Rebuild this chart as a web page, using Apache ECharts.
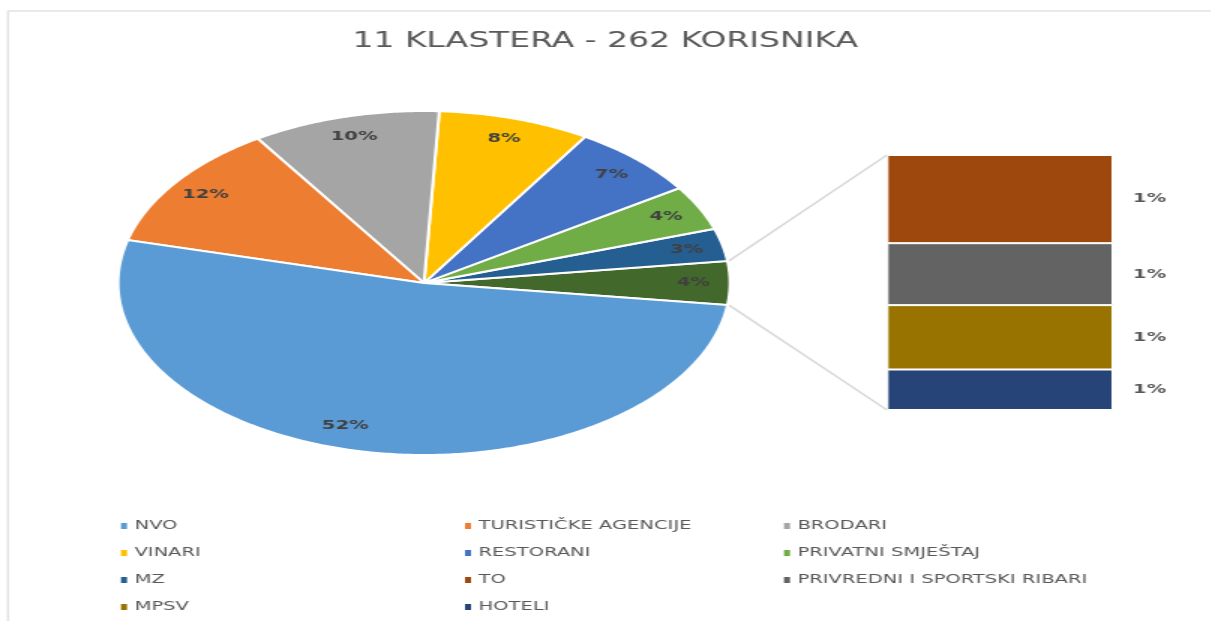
<!DOCTYPE html>
<html>
<head>
<meta charset="utf-8">
<script src="https://cdn.jsdelivr.net/npm/echarts@6/dist/echarts.min.js"></script>
<style>
  html, body { margin: 0; padding: 0; background: #fff; overflow: hidden; }
  #main { height: 621px; transform-origin: 0 0; }
</style>
</head>
<body>
<div id="main"></div>
<script>
// glavni dio pite (redom kako stoje u legendi)
var pieNames = ['NVO', 'TURISTIČKE AGENCIJE', 'BRODARI', 'VINARI', 'RESTORANI', 'PRIVATNI SMJEŠTAJ', 'MZ'];
var pieValues = [136, 31, 26, 21, 18, 11, 8];
var pieColors = ['#5b9bd5', '#ed7d31', '#a5a5a5', '#ffc000', '#4472c4', '#70ad47', '#255e91'];

// izdvojeni dio (stupac desno)
var barNames = ['TO', 'PRIVREDNI I SPORTSKI RIBARI', 'MPSV', 'HOTELI'];
var barValues = [3.7, 2.6, 2.7, 1.7];
var barColors = ['#9e480e', '#636363', '#997300', '#264478'];
var otherColor = '#43682b';

var otherSum = barValues.reduce(function (a, b) { return a + b; }, 0);
var total = pieValues.reduce(function (a, b) { return a + b; }, 0) + otherSum;

// slika je razvučena vodoravno, pa crtamo uže i razvučemo
var K = 1.5;
function X(x) { return x / K; }

var el = document.getElementById('main');
el.style.width = (1211 / K) + 'px';
el.style.transform = 'scaleX(' + K + ')';

// elipsa pite
var cx = X(424), cy = 283, rx = X(306), ry = 172;
// stupac
var gridLeft = X(887), gridTop = 155, gridW = X(226), gridH = 255;

function pct(v) {
    return Math.round(v / total * 100) + '%';
}

// redoslijed kriški obrnuto od kazaljke, počevši od izdvojenog dijela
var slices = [{ name: 'other', value: otherSum, color: otherColor }];
for (var i = pieNames.length - 1; i >= 0; i--) {
    slices.push({ name: pieNames[i], value: pieValues[i], color: pieColors[i] });
}
var acc = -otherSum / 2;
slices.forEach(function (s) {
    s.a0 = acc / total * Math.PI * 2;
    acc += s.value;
    s.a1 = acc / total * Math.PI * 2;
});

function ept(a, f) {
    return [cx + rx * f * Math.cos(a), cy - ry * f * Math.sin(a)];
}

function sliceSeries(s) {
    return {
        name: s.name,
        type: 'custom',
        coordinateSystem: 'none',
        color: s.color,
        silent: true,
        data: [s.value],
        renderItem: function () {
            var pts = [[cx, cy]];
            var n = Math.max(4, Math.ceil((s.a1 - s.a0) / 0.01));
            for (var k = 0; k <= n; k++) {
                pts.push(ept(s.a0 + (s.a1 - s.a0) * k / n, 1));
            }
            var mid = (s.a0 + s.a1) / 2;
            // NVO natpis u Excelu stoji malo lijevije
            var lp = s.name === 'NVO' ? ept(mid - 0.11, 0.87) : ept(mid, 0.88);
            var children = [{
                type: 'polygon',
                shape: { points: pts },
                style: { fill: s.color, stroke: '#fff', lineWidth: 2 }
            }, {
                type: 'text',
                x: lp[0], y: lp[1],
                style: {
                    text: pct(s.value),
                    fill: '#404040',
                    font: 'bold 13px "DejaVu Sans"',
                    align: 'center',
                    verticalAlign: 'middle'
                },
                z2: 10
            }];
            if (s.name === 'other') {
                var p0 = ept(s.a1, 1.005), p1 = ept(s.a0, 1.005);
                children.push({
                    type: 'line',
                    shape: { x1: p0[0], y1: p0[1], x2: gridLeft, y2: gridTop },
                    style: { stroke: '#d9d9d9', lineWidth: 1.5 }
                });
                children.push({
                    type: 'line',
                    shape: { x1: p1[0], y1: p1[1], x2: gridLeft, y2: gridTop + gridH },
                    style: { stroke: '#d9d9d9', lineWidth: 1.5 }
                });
            }
            return { type: 'group', children: children };
        }
    };
}

var series = slices.map(sliceSeries);

// stupac se slaže odozdo prema gore
for (var j = barNames.length - 1; j >= 0; j--) {
    series.push({
        name: barNames[j],
        type: 'bar',
        stack: 'ostali',
        barWidth: '100%',
        color: barColors[j],
        itemStyle: { borderColor: '#fff', borderWidth: 1 },
        label: {
            show: true,
            position: 'right',
            distance: X(20),
            color: '#595959',
            fontFamily: 'DejaVu Sans',
            fontWeight: 'bold',
            fontSize: 13,
            formatter: function (p) { return pct(p.value); }
        },
        silent: true,
        data: [barValues[j]]
    });
}

function legendCol(left, names) {
    return {
        orient: 'vertical',
        left: X(left),
        top: 519,
        height: 110,
        padding: 0,
        data: names,
        icon: 'rect',
        itemWidth: 4,
        itemHeight: 6,
        itemGap: 13,
        itemStyle: { borderWidth: 0 },
        selectedMode: false,
        textStyle: { color: '#595959', fontFamily: 'DejaVu Sans', fontSize: 13, lineHeight: 14 }
    };
}

var chart = echarts.init(el);
chart.setOption({
    animation: false,
    backgroundColor: '#fff',
    title: {
        text: '11 KLASTERA - 262 KORISNIKA',
        left: 'center',
        top: 25,
        textStyle: { color: '#595959', fontFamily: 'DejaVu Sans', fontSize: 22, fontWeight: 'normal' }
    },
    graphic: [{
        type: 'polyline',
        shape: { points: [[X(8), 640], [X(8), 11], [X(1230), 11]] },
        style: { stroke: '#e3e3e3', lineWidth: 1.5, fill: null },
        silent: true
    }],
    legend: [
        legendCol(121, ['NVO', 'VINARI', 'MZ', 'MPSV']),
        legendCol(465, ['TURISTIČKE AGENCIJE', 'RESTORANI', 'TO', 'HOTELI']),
        legendCol(784, ['BRODARI', 'PRIVATNI SMJEŠTAJ', 'PRIVREDNI I SPORTSKI RIBARI'])
    ],
    grid: { left: gridLeft, top: gridTop, width: gridW, height: gridH },
    xAxis: { type: 'category', data: ['ostali'], show: false },
    yAxis: { type: 'value', min: 0, max: otherSum, show: false },
    series: series
});
</script>
</body>
</html>
